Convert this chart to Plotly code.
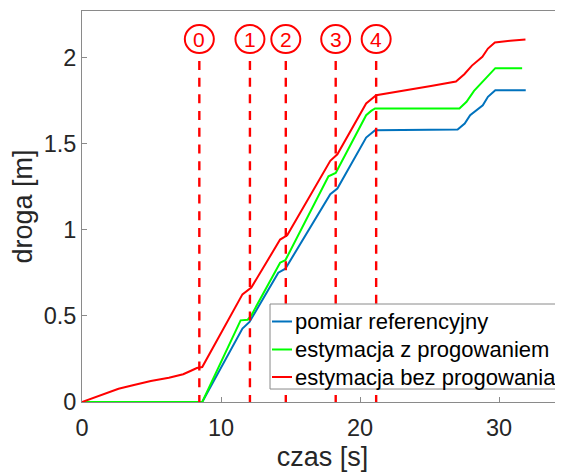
import plotly.graph_objects as go

# ---- data ----
t_ref = [0, 8.65, 11.54, 12.05, 14.12, 14.63, 17.86, 18.37, 20.44, 20.8, 21.08, 27.02, 27.53, 27.92, 28.83, 29.2, 29.73, 31.92]
s_ref = [0, 0, 0.426, 0.465, 0.751, 0.774, 1.206, 1.239, 1.535, 1.56, 1.578, 1.582, 1.617, 1.665, 1.723, 1.772, 1.81, 1.81]

t_thr = [0, 8.65, 11.41, 11.92, 12.18, 14.25, 14.63, 17.73, 18.25, 20.44, 20.8, 21.08, 27.15, 27.66, 28.2, 28.95, 29.73, 31.66]
s_thr = [0, 0, 0.474, 0.478, 0.503, 0.809, 0.823, 1.31, 1.33, 1.665, 1.69, 1.704, 1.704, 1.743, 1.806, 1.868, 1.938, 1.938]

t_raw = [0, 1.0, 1.86, 2.63, 3.66, 4.95, 6.25, 7.28, 7.8, 8.26, 8.65, 11.54, 12.18, 14.25, 14.76, 17.86, 18.37, 20.44, 21.16,
         23.4, 25.1, 26.9, 27.5, 28.05, 28.8, 29.2, 29.7, 30.8, 31.9]
s_raw = [0, 0.03, 0.058, 0.077, 0.097, 0.122, 0.141, 0.161, 0.18, 0.197, 0.203, 0.625, 0.664, 0.943, 0.968, 1.40, 1.438, 1.733, 1.781,
         1.81, 1.834, 1.861, 1.903, 1.953, 2.004, 2.052, 2.087, 2.097, 2.105]

event_times = [8.44, 12.08, 14.66, 18.25, 21.16]
event_labels = ["0", "1", "2", "3", "4"]
event_line_top = 1.98
event_label_y = 2.107

series_names = ["pomiar referencyjny", "estymacja z progowaniem", "estymacja bez progowania"]
x_ticks = [0, 10, 20, 30]
y_ticks = [0, 0.5, 1, 1.5, 2]
y_ticktext = ["0", "0.5", "1", "1.5", "2"]

# ---- figure ----
FONT = "Liberation Sans, Arial, sans-serif"
fig = go.Figure()
colors = ["#0072BD", "#00FF00", "#FF0000"]
for t, s, name, c in zip([t_ref, t_thr, t_raw], [s_ref, s_thr, s_raw], series_names, colors):
    fig.add_trace(go.Scatter(x=t, y=s, mode="lines", name=name, showlegend=False,
                             line=dict(color=c, width=2)))

for te in event_times:
    fig.add_trace(go.Scatter(x=[te, te], y=[event_line_top, 0], mode="lines", showlegend=False,
                             line=dict(color="#FF0000", width=2.4, dash="9px,7.7px"), hoverinfo="skip"))

for te, lab in zip(event_times, event_labels):
    fig.add_shape(type="circle", xref="x", yref="y", xsizemode="pixel", ysizemode="pixel",
                  xanchor=te, yanchor=event_label_y, x0=-14.5, x1=14.5, y0=-14, y1=14,
                  line=dict(color="#FF0000", width=2), layer="above")
    fig.add_annotation(x=te, y=event_label_y, text=lab, showarrow=False,
                       font=dict(family=FONT, size=21, color="#FF0000"),
                       xanchor="center", yanchor="middle")

# ---- legend box (MATLAB style, short line samples) ----
leg_x0, leg_x1, leg_y0, leg_y1 = 0.3909, 0.9958, 0.0332, 0.2506
fig.add_shape(type="rect", xref="paper", yref="paper", x0=leg_x0, x1=leg_x1, y0=leg_y0, y1=leg_y1,
              fillcolor="white", line=dict(color="#8a8a8a", width=1), layer="above")
row_y = [0.2059, 0.1343, 0.0639]
for name, c, ry in zip(series_names, colors, row_y):
    fig.add_shape(type="line", xref="paper", yref="paper", x0=0.395, x1=0.4366, y0=ry, y1=ry,
                  line=dict(color=c, width=2), layer="above")
    fig.add_annotation(xref="paper", yref="paper", x=0.4386, y=ry, text=name, showarrow=False,
                       xanchor="left", yanchor="middle",
                       font=dict(family=FONT, size=22, color="#000000"))

axis_common = dict(showgrid=False, zeroline=False, showline=True, linecolor="#8a8a8a", linewidth=1,
                   ticks="inside", ticklen=5, tickcolor="#8a8a8a",
                   tickfont=dict(family=FONT, size=23.5, color="#262626"))

fig.update_xaxes(range=[0, 34.6], tickvals=x_ticks, mirror=True, ticklabelstandoff=5,
                 title=dict(text="czas [s]", font=dict(family=FONT, size=27, color="#262626"), standoff=9),
                 **axis_common)
fig.update_yaxes(range=[0, 2.27], tickvals=y_ticks, ticktext=y_ticktext,
                 title=dict(text="droga [m]", font=dict(family=FONT, size=27, color="#262626"), standoff=4),
                 **axis_common)

# page body has an 8px default margin: figure is 555x464, offset by 8px
fig.update_layout(
    width=555, height=464,
    margin=dict(l=74, r=0, t=3, b=70, autoexpand=False),
    plot_bgcolor="white", paper_bgcolor="white",
    showlegend=False,
)

fig.write_html("out.html")
